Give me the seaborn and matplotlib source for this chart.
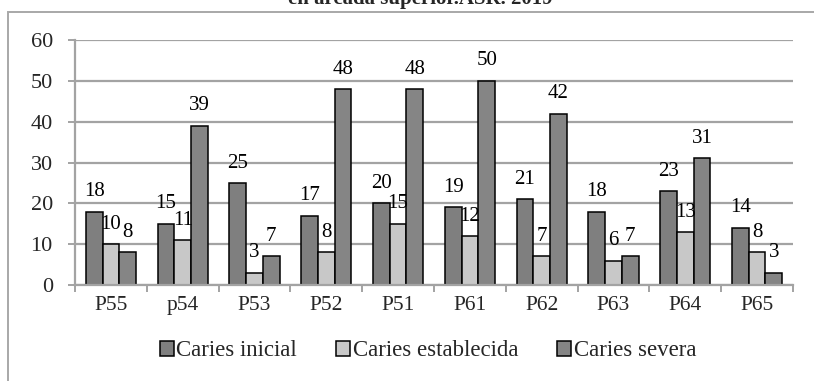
import matplotlib
matplotlib.use("Agg")
import matplotlib.pyplot as plt
from matplotlib.patches import Rectangle
from matplotlib.ticker import FixedLocator
import pandas as pd
import seaborn as sns

# Teeth of the upper arch and caries counts per severity
dientes = ["P55", "p54", "P53", "P52", "P51", "P61", "P62", "P63", "P64", "P65"]
caries_inicial = [18, 15, 25, 17, 20, 19, 21, 18, 23, 14]
caries_establecida = [10, 11, 3, 8, 15, 12, 7, 6, 13, 8]
caries_severa = [8, 39, 7, 48, 48, 50, 42, 7, 31, 3]
series = ["Caries inicial", "Caries establecida", "Caries severa"]
y_ticks = [0, 10, 20, 30, 40, 50, 60]
titulo = "en arcada superior.ASR. 2019"

valores = [caries_inicial, caries_establecida, caries_severa]
df = pd.DataFrame({
    "diente": dientes * 3,
    "serie": [s for s in series for _ in dientes],
    "valor": caries_inicial + caries_establecida + caries_severa,
})

sns.set_theme(style="white")
plt.rcParams["font.family"] = ["Liberation Serif", "DejaVu Serif"]

W, H = 814, 381
fig = plt.figure(figsize=(W / 100, H / 100), dpi=100)
ax = fig.add_axes([75 / W, 1 - 285 / H, (793 - 75) / W, (285 - 40) / H])

palette = {"Caries inicial": "#7f7f7f", "Caries establecida": "#c8c8c8",
           "Caries severa": "#858585"}
sns.barplot(data=df, x="diente", y="valor", hue="serie", order=dientes,
            hue_order=series, palette=palette, width=0.7, saturation=1,
            edgecolor="black", linewidth=1.1, ax=ax, legend=True)

for cont, vals in zip(ax.containers, valores):
    ax.bar_label(cont, labels=[str(v) for v in vals], padding=7.5,
                 fontsize=15, color="black")

ax.set_ylim(0, 60)
ax.set_xlim(-0.5, len(dientes) - 0.5)
ax.set_yticks(y_ticks)
ax.set_xlabel("")
ax.set_ylabel("")

grid_c = "#a3a3a3"
ax.yaxis.grid(True, color=grid_c, linewidth=1.6)
ax.set_axisbelow(True)
for side in ["top", "right"]:
    ax.spines[side].set_visible(False)
for side in ["left", "bottom"]:
    ax.spines[side].set_color(grid_c)
    ax.spines[side].set_linewidth(1.6)

ax.tick_params(axis="y", which="major", length=5, width=1.4, color=grid_c,
               pad=11, labelsize=16, left=True)
ax.tick_params(axis="x", which="major", length=0, pad=8, labelsize=15.5)
ax.xaxis.set_minor_locator(FixedLocator([i - 0.5 for i in range(len(dientes) + 1)]))
ax.tick_params(axis="x", which="minor", length=5, width=1.4, color=grid_c,
               bottom=True)

handles, labels = ax.get_legend_handles_labels()
ax.get_legend().remove()
fig.legend(handles, labels, loc="center", bbox_to_anchor=(428 / W, 1 - 351 / H),
           ncol=3, frameon=False, fontsize=16.5, handlelength=0.6,
           handleheight=0.6, handletextpad=0.12, columnspacing=1.7)

# outer chart frame
fig.add_artist(Rectangle((8 / W, -0.2), 1.2, 1 - 12.5 / H + 0.2,
                         transform=fig.transFigure, fill=False,
                         edgecolor="#a8a8a8", linewidth=1.4, clip_on=False))

fig.text(420 / W, 1 - 4 / H, titulo, ha="center", va="baseline",
         fontsize=15, fontweight="bold")

fig.savefig("out.png", dpi=100, facecolor="white")
